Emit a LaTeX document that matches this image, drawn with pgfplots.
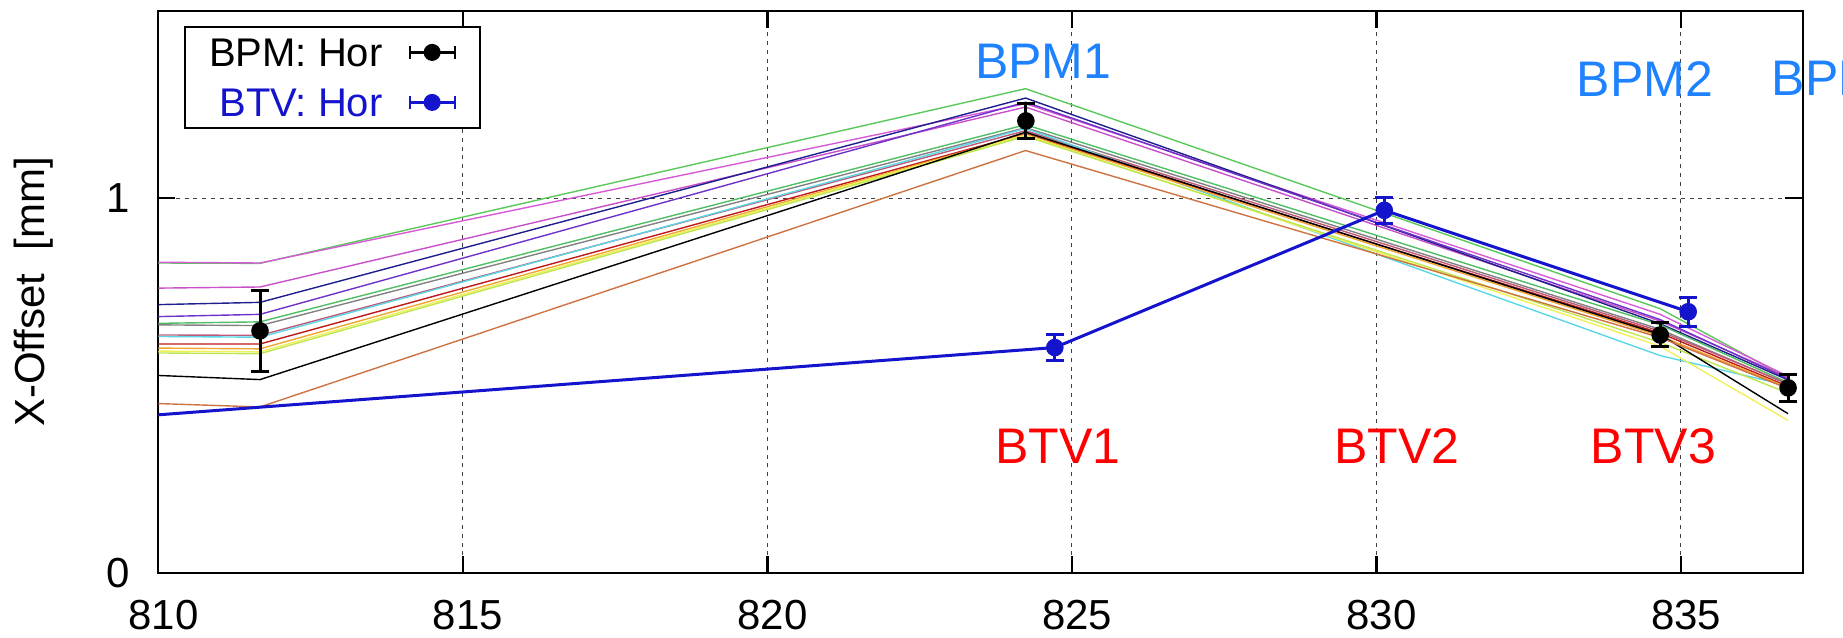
\documentclass[border=0pt]{standalone}
\usepackage{fontspec}
\setmainfont{Liberation Sans}
\usepackage{pgfplots}
\pgfplotsset{compat=1.18}
\definecolor{btvblue}{RGB}{20,20,205}
\definecolor{lblblue}{RGB}{30,130,255}
\definecolor{lgreen}{RGB}{90,200,90}
\definecolor{lmag}{RGB}{215,90,215}
\definecolor{lmag2}{RGB}{200,80,200}
\definecolor{lnavy}{RGB}{30,30,140}
\definecolor{lpurple}{RGB}{110,50,200}
\definecolor{lgreen2}{RGB}{80,190,100}
\definecolor{lgray}{RGB}{130,130,130}
\definecolor{lbrown}{RGB}{190,90,120}
\definecolor{lcyan}{RGB}{90,215,230}
\definecolor{ldred}{RGB}{190,25,25}
\definecolor{lyellow}{RGB}{240,240,90}
\definecolor{lygreen}{RGB}{190,230,80}
\definecolor{lsienna}{RGB}{205,115,65}
\definecolor{lorange}{RGB}{240,165,50}
\begin{document}
\begin{tikzpicture}
\begin{axis}[
  scale only axis, width=411.1pt, height=140.575pt,
  xmin=810, xmax=837, ymin=0, ymax=1.5,
  xtick={810,815,820,825,830,835}, ytick={0,1},
  axis line style={line width=0.5pt},
  tick style={line width=0.6pt, black},
  major tick length=4.3pt,
  tick align=inside,
  grid=major,
  major grid style={dash pattern=on 1pt off 1.2pt, line width=0.25pt, black!75},
  ticklabel style={font=\fontsize{10.5}{12}\selectfont},
  /pgf/number format/assume math mode=true,
  xticklabel style={yshift=-3.2pt, xshift=1.3pt},
  yticklabel style={xshift=-3.5pt},
  ylabel={X-Offset\ \ [mm]},
  ylabel style={at={(axis description cs:-0.076,0.5)}, anchor=center, font=\fontsize{10.5}{12}\selectfont},
  clip mode=individual,
  legend style={at={(rel axis cs:0,1)}, anchor=north west, xshift=6.5pt, yshift=-3.8pt,
    draw=black, line width=0.45pt, inner xsep=6pt, inner ysep=2.8pt, row sep=5.3pt, column sep=6.5pt,
    font=\fontsize{10}{12}\selectfont,
    nodes={inner sep=0pt, text height=7.2pt, text depth=0pt}},
  legend cell align=right, legend plot pos=right,
  thin/.style={line width=0.35pt, no marks, forget plot},
]
\addplot[thin, lgreen]  coordinates {(810,0.827) (811.67,0.826) (824.24,1.292) (834.66,0.705) (836.76,0.520)};
\addplot[thin, lmag]    coordinates {(810,0.829) (811.67,0.827) (824.24,1.252) (834.66,0.690) (836.76,0.525)};
\addplot[thin, lmag2]   coordinates {(810,0.760) (811.67,0.763) (824.24,1.243) (834.66,0.672) (836.76,0.522)};
\addplot[thin, lnavy]   coordinates {(810,0.716) (811.67,0.722) (824.24,1.267) (834.66,0.665) (836.76,0.515)};
\addplot[thin, lpurple] coordinates {(810,0.684) (811.67,0.690) (824.24,1.256) (834.66,0.676) (836.76,0.518)};
\addplot[thin, lgreen2] coordinates {(810,0.666) (811.67,0.670) (824.24,1.196) (834.66,0.662) (836.76,0.508)};
\addplot[thin, lgray]   coordinates {(810,0.662) (811.67,0.660) (824.24,1.188) (834.66,0.650) (836.76,0.503)};
\addplot[thin, lbrown]  coordinates {(810,0.635) (811.67,0.634) (824.24,1.180) (834.66,0.645) (836.76,0.505)};
\addplot[thin, lcyan]   coordinates {(810,0.631) (811.67,0.629) (824.24,1.186) (834.66,0.580) (836.76,0.500)};
\addplot[thin, ldred]   coordinates {(810,0.611) (811.67,0.611) (824.24,1.172) (834.66,0.640) (836.76,0.498)};
\addplot[thin, lorange] coordinates {(810,0.600) (811.67,0.598) (824.24,1.170) (834.66,0.632) (836.76,0.495)};
\addplot[thin, lyellow] coordinates {(810,0.592) (811.67,0.590) (824.24,1.168) (834.66,0.605) (836.76,0.407)};
\addplot[thin, lygreen] coordinates {(810,0.587) (811.67,0.585) (824.24,1.165) (834.66,0.615) (836.76,0.480)};
\addplot[thin, black]   coordinates {(810,0.527) (811.67,0.516) (824.24,1.176) (834.66,0.636) (836.76,0.425)};
\addplot[thin, lsienna] coordinates {(810,0.452) (811.67,0.443) (824.24,1.127) (834.66,0.628) (836.76,0.492)};
% BTV line
\addplot[btvblue, line width=0.75pt, no marks, forget plot] coordinates {(810,0.422) (824.72,0.6015) (830.13,0.9675) (835.12,0.697)};
% BPM points
\addplot[black, only marks, mark=*, mark size=2pt, forget plot,
  error bars/.cd, y dir=both, y explicit,
  error bar style={line width=0.75pt, black},
  error mark options={rotate=90, mark size=2.3pt, line width=0.75pt, black}]
  coordinates {(811.67,0.646) +- (0,0.108) (824.245,1.206) +- (0,0.046) (834.66,0.635) +- (0,0.032) (836.76,0.494) +- (0,0.036)};
% BTV points
\addplot[btvblue, only marks, mark=*, mark size=2pt, forget plot,
  error bars/.cd, y dir=both, y explicit,
  error bar style={line width=0.75pt, btvblue},
  error mark options={rotate=90, mark size=2.3pt, line width=0.75pt, btvblue}]
  coordinates {(824.72,0.6015) +- (0,0.035) (830.13,0.9675) +- (0,0.035) (835.12,0.697) +- (0,0.039)};
\addlegendimage{legend image code/.code={
  \draw[black, line width=0.6pt] (0pt,0pt) -- (11.25pt,0pt);
  \draw[black, line width=0.6pt] (0pt,-1.6pt) -- (0pt,1.6pt) (11.25pt,-1.6pt) -- (11.25pt,1.6pt);
  \fill[black] (5.6pt,0pt) circle (1.9pt);}}
\addlegendentry{BPM: Hor}
\addlegendimage{legend image code/.code={
  \draw[btvblue, line width=0.6pt] (0pt,0pt) -- (11.25pt,0pt);
  \draw[btvblue, line width=0.6pt] (0pt,-1.6pt) -- (0pt,1.6pt) (11.25pt,-1.6pt) -- (11.25pt,1.6pt);
  \fill[btvblue] (5.6pt,0pt) circle (1.9pt);}}
\addlegendentry{\textcolor{btvblue}{BTV: Hor}}
% labels
\node[inner sep=0pt, text=lblblue, font=\fontsize{12.5}{14}\selectfont] at (axis cs:824.53,1.365) {BPM1};
\node[inner sep=0pt, text=lblblue, font=\fontsize{12.5}{14}\selectfont] at (axis cs:834.41,1.319) {BPM2};
\node[inner sep=0pt, anchor=west, text=lblblue, font=\fontsize{12.5}{14}\selectfont] at (axis cs:836.48,1.319) {BPM3};
\node[inner sep=0pt, text=red, font=\fontsize{12.5}{14}\selectfont] at (axis cs:824.77,0.339) {BTV1};
\node[inner sep=0pt, text=red, font=\fontsize{12.5}{14}\selectfont] at (axis cs:830.34,0.339) {BTV2};
\node[inner sep=0pt, text=red, font=\fontsize{12.5}{14}\selectfont] at (axis cs:834.55,0.339) {BTV3};
\end{axis}
\pgfresetboundingbox
\path[use as bounding box] ([xshift=-39.575pt, yshift=-16pt]current axis.south west) rectangle ++(460.75pt,159.25pt);
\end{tikzpicture}
\end{document}
